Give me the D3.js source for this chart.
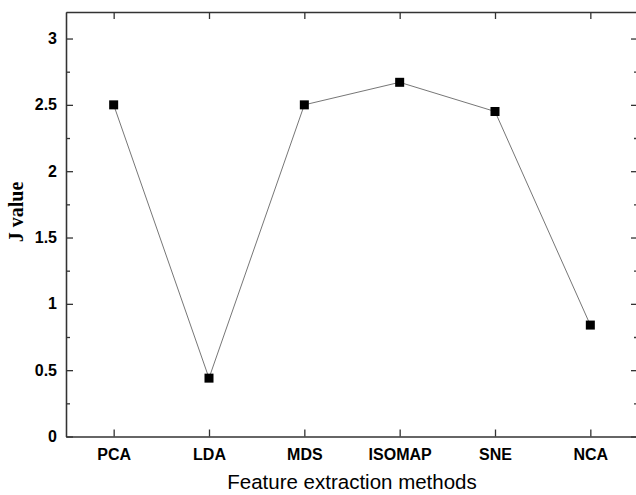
<!DOCTYPE html>
<html>
<head>
<meta charset="utf-8">
<script src="https://cdn.jsdelivr.net/npm/d3@7"></script>
<style>
  body { margin: 0; background: #fff; }
  .tick text { font-family: Arial, "Liberation Sans", sans-serif; font-weight: bold; font-size: 16px; fill: #000; }
  .axis path, .axis line { stroke: #333; stroke-width: 1.3; }
</style>
</head>
<body>
<div id="chart"></div>
<script>
var methods = ["PCA", "LDA", "MDS", "ISOMAP", "SNE", "NCA"];
var jValues = [2.5, 0.44, 2.5, 2.67, 2.45, 0.84];
var yTicks = [0, 0.5, 1, 1.5, 2, 2.5, 3];
var yMinorTicks = [0.25, 0.75, 1.25, 1.75, 2.25, 2.75];

var margin = {top: 12, right: -2, bottom: 58.5, left: 66},
    width = 636 - margin.left - margin.right,
    height = 495 - margin.top - margin.bottom;

var svg = d3.select("#chart")
    .append("svg")
        .attr("width", 636)
        .attr("height", 495)
    .append("g")
        .attr("transform", "translate(" + margin.left + "," + margin.top + ")");

var x = d3.scalePoint()
    .domain(methods)
    .range([0, width])
    .padding(0.5);

var y = d3.scaleLinear()
    .domain([0, 3.2])
    .range([height, 0]);

// bottom axis
svg.append("g")
    .attr("class", "axis")
    .attr("transform", "translate(0," + height + ")")
    .call(d3.axisBottom(x).tickSize(-7).tickSizeOuter(0).tickPadding(12));

// top axis (ticks only)
svg.append("g")
    .attr("class", "axis")
    .call(d3.axisTop(x).tickSize(-7).tickSizeOuter(0).tickFormat(""));

// left axis
svg.append("g")
    .attr("class", "axis")
    .call(d3.axisLeft(y).tickValues(yTicks).tickSize(-7).tickSizeOuter(0).tickPadding(9)
        .tickFormat(d3.format("")));

svg.append("g")
    .attr("class", "axis")
    .call(d3.axisLeft(y).tickValues(yMinorTicks).tickSize(-4).tickSizeOuter(0).tickFormat(""));

// right axis (ticks only)
svg.append("g")
    .attr("class", "axis")
    .attr("transform", "translate(" + width + ",0)")
    .call(d3.axisRight(y).tickValues(yTicks).tickSize(-7).tickSizeOuter(0).tickFormat(""));

svg.append("g")
    .attr("class", "axis")
    .attr("transform", "translate(" + width + ",0)")
    .call(d3.axisRight(y).tickValues(yMinorTicks).tickSize(-4).tickSizeOuter(0).tickFormat(""));

// line
svg.append("path")
    .datum(jValues)
    .attr("fill", "none")
    .attr("stroke", "#666")
    .attr("stroke-width", 0.9)
    .attr("d", d3.line()
        .x(function(d, i) { return x(methods[i]); })
        .y(function(d) { return y(d); }));

// markers
svg.selectAll(".marker")
    .data(jValues)
    .enter()
    .append("rect")
        .attr("class", "marker")
        .attr("x", function(d, i) { return x(methods[i]) - 4.5; })
        .attr("y", function(d) { return y(d) - 4.5; })
        .attr("width", 9)
        .attr("height", 9)
        .attr("fill", "#000");

// axis titles
svg.append("text")
    .attr("x", (width / 2))
    .attr("y", height + 52)
    .attr("text-anchor", "middle")
    .style("font-family", "Arial, 'Liberation Sans', sans-serif")
    .style("font-size", "20.5px")
    .text("Feature extraction methods");

svg.append("text")
    .attr("transform", "rotate(-90)")
    .attr("x", -(212 - margin.top))
    .attr("y", 23 - margin.left)
    .attr("text-anchor", "middle")
    .style("font-family", "'Times New Roman', 'Liberation Serif', serif")
    .style("font-weight", "bold")
    .style("font-size", "20px")
    .text("J value");
</script>
</body>
</html>
